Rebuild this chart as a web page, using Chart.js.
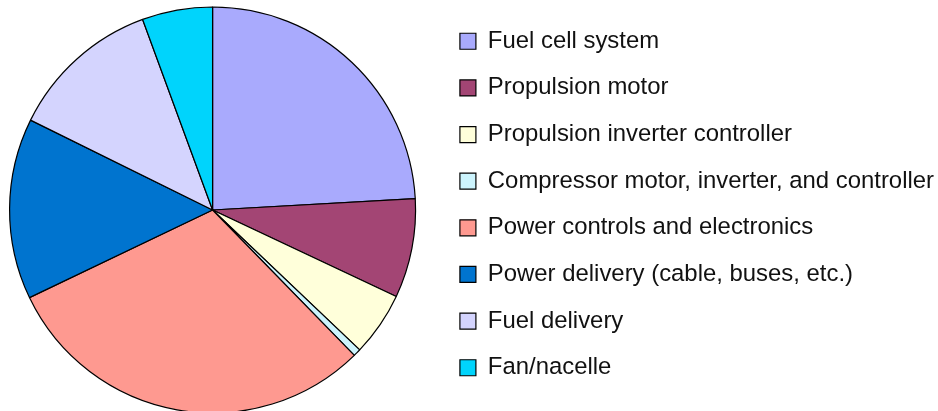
<!DOCTYPE html>
<html lang="en">
<head>
  <meta charset="UTF-8">
  <title>Cost breakdown</title>
  <script src="https://cdn.jsdelivr.net/npm/chart.js"></script>
  <style>
    html, body { margin: 0; padding: 0; background: #fff; overflow: hidden; }
    /* canvas is nudged a little up/left so pie and legend sit where the original had them */
    #wrap { width: 956px; height: 413px; position: relative; margin-left: -12px; margin-top: -2px; }
  </style>
</head>
<body>
  <div id="wrap">
    <canvas id="pieChart"></canvas>
  </div>

  <script>
    // components and their share (percent)
    const components = [
      'Fuel cell system',
      'Propulsion motor',
      'Propulsion inverter controller',
      'Compressor motor, inverter, and controller',
      'Power controls and electronics',
      'Power delivery (cable, buses, etc.)',
      'Fuel delivery',
      'Fan/nacelle'
    ];
    const shares = [24.1, 7.9, 5.1, 0.6, 30.2, 14.4, 12.1, 5.6];
    const sliceColors = ['#A9AAFD', '#A34574', '#FFFFDA', '#CCF4FD', '#FE9990', '#0074CF', '#D4D4FE', '#00D4FC'];

    const ctx = document.getElementById('pieChart').getContext('2d');
    new Chart(ctx, {
      type: 'pie',
      data: {
        labels: components,
        datasets: [{
          data: shares,
          backgroundColor: sliceColors,
          borderColor: '#000',
          borderWidth: 1.2
        }]
      },
      options: {
        responsive: true,
        maintainAspectRatio: false,
        animation: false,
        events: [],
        radius: 203,
        layout: { padding: 0 },
        plugins: {
          tooltip: { enabled: false },
          // empty title only pushes the pie down a little
          title: { display: true, text: '', font: { size: 5 }, padding: { top: 5, bottom: 0 } },
          legend: {
            position: 'right',
            maxWidth: 560,
            labels: {
              boxWidth: 16,
              boxHeight: 16,
              padding: 22.74,
              color: '#111',
              font: { family: '"Liberation Sans", Arial, sans-serif', size: 23.9 }
            }
          }
        }
      }
    });
  </script>
</body>
</html>
